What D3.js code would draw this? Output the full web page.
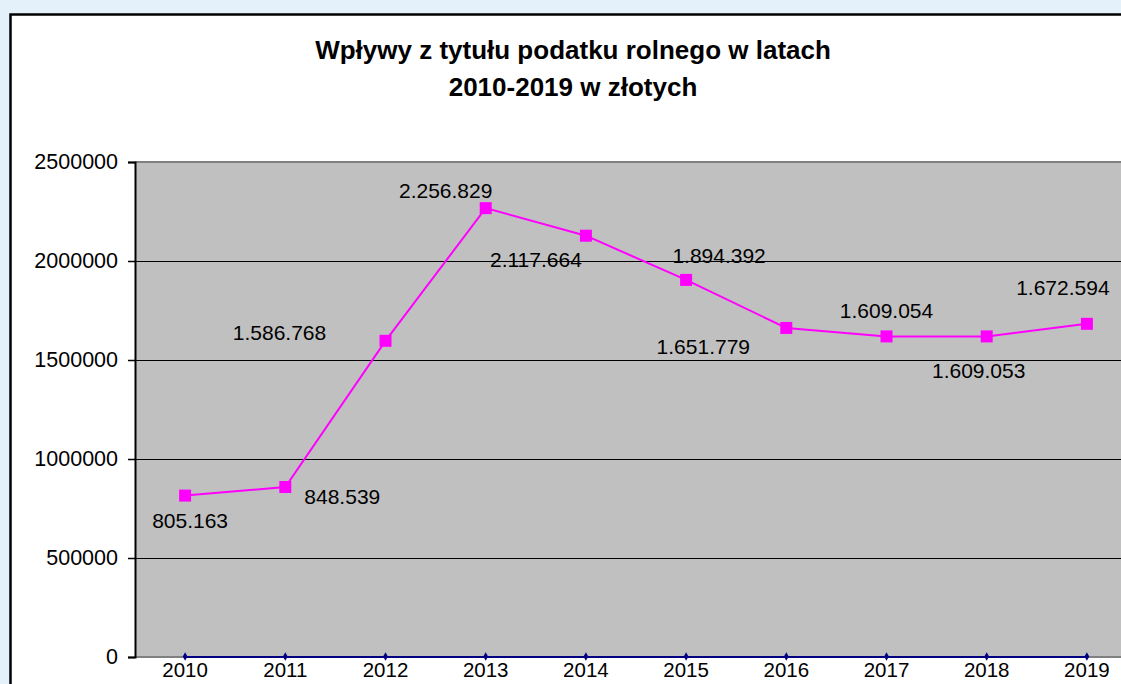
<!DOCTYPE html>
<html>
<head>
<meta charset="utf-8">
<script src="https://cdn.jsdelivr.net/npm/d3@7"></script>
<style>
  html, body { margin: 0; padding: 0; background: #e4f1fa; overflow: hidden; }
  svg { display: block; font-family: "Liberation Sans", Arial, sans-serif; }
</style>
</head>
<body>
<svg id="chart" width="1121" height="684"></svg>
<script>
// chart data
const years = ['2010', '2011', '2012', '2013', '2014', '2015', '2016', '2017', '2018', '2019']
const revenue = [805163, 848539, 1586768, 2256829, 2117664, 1894392, 1651779, 1609054, 1609053, 1672594]
const baseline = [0, 0, 0, 0, 0, 0, 0, 0, 0, 0]
const yTicks = [0, 500000, 1000000, 1500000, 2000000, 2500000]
const titleLines = ['Wpływy z tytułu podatku rolnego w latach', '2010-2019 w złotych']

// label placement relative to each point (hand-placed like the original)
const labelShift = [[5, 25], [57, 10], [-106, -8], [-40, -18], [-50, 24], [33, -24], [-83, 19], [0, -26], [-8, 34], [-24, -36]]

const svg = d3.select('#chart')
const plot = { left: 135, top: 162, right: 1137, bottom: 657 }

// white chart panel
svg.append('rect')
  .attr('x', 10.5).attr('y', 14.5)
  .attr('width', 1300).attr('height', 900)
  .attr('fill', '#fff')
  .attr('stroke', '#000')
  .attr('stroke-width', 2.5)

const x = d3.scaleBand().domain(years).range([plot.left, plot.right])
const cx = d => x(d) + x.bandwidth() / 2
const y = d3.scaleLinear().domain([0, 2500000]).range([plot.bottom, plot.top])

svg.append('rect')
  .attr('x', plot.left).attr('y', plot.top)
  .attr('width', plot.right - plot.left).attr('height', plot.bottom - plot.top)
  .attr('fill', '#c0c0c0')

// gridlines
svg.append('g')
  .selectAll('line')
  .data(yTicks.filter(t => t > 0 && t < 2500000))
  .join('line')
  .attr('x1', plot.left).attr('x2', plot.right)
  .attr('y1', d => Math.round(y(d)) + 0.5).attr('y2', d => Math.round(y(d)) + 0.5)
  .attr('stroke', '#000')

// top + bottom frame of plot area
svg.append('line')
  .attr('x1', plot.left).attr('x2', plot.right)
  .attr('y1', plot.top).attr('y2', plot.top)
  .attr('stroke', '#808080').attr('stroke-width', 2)
svg.append('line')
  .attr('x1', plot.left).attr('x2', plot.right)
  .attr('y1', plot.bottom).attr('y2', plot.bottom)
  .attr('stroke', '#808080').attr('stroke-width', 2)

// y axis
const yAxis = svg.append('g')
  .attr('transform', `translate(${plot.left},0)`)
  .call(d3.axisLeft(y).tickValues(yTicks).tickFormat(d3.format('d')).tickSize(7).tickPadding(10))
yAxis.select('.domain').attr('stroke', '#000').attr('stroke-width', 2)
yAxis.selectAll('.tick line').attr('stroke', '#000').attr('stroke-width', 1.5)
yAxis.selectAll('text').attr('font-size', 21.5).attr('fill', '#000')
yAxis.attr('font-family', null)

// x axis labels
const xAxis = svg.append('g')
  .attr('transform', `translate(0,${plot.bottom})`)
  .call(d3.axisBottom(x).tickSize(0).tickPadding(5))
xAxis.select('.domain').remove()
xAxis.selectAll('text').attr('font-size', 20.5).attr('fill', '#000')
xAxis.attr('font-family', null)

// zero series in navy
const line = d3.line().x((d, i) => cx(years[i])).y(d => y(d))
svg.append('path')
  .datum(baseline)
  .attr('d', line)
  .attr('fill', 'none')
  .attr('stroke', '#000080')
  .attr('stroke-width', 2)
svg.append('g')
  .selectAll('path')
  .data(baseline)
  .join('path')
  .attr('d', d3.symbol(d3.symbolDiamond, 20))
  .attr('transform', (d, i) => `translate(${cx(years[i])},${y(d) - 0.5})`)
  .attr('fill', '#000080')

// main series (nudged up 2px like the original rendering)
const series = svg.append('g').attr('transform', 'translate(0,-2)')
series.append('path')
  .datum(revenue)
  .attr('d', line)
  .attr('fill', 'none')
  .attr('stroke', '#ff00ff')
  .attr('stroke-width', 2)
series.append('g')
  .selectAll('rect')
  .data(revenue)
  .join('rect')
  .attr('x', (d, i) => cx(years[i]) - 6)
  .attr('y', d => y(d) - 6)
  .attr('width', 12).attr('height', 12)
  .attr('fill', '#ff00ff')

const plFormat = d => d3.format(',')(d).replace(/,/g, '.')
series.append('g')
  .selectAll('text')
  .data(revenue)
  .join('text')
  .attr('x', (d, i) => cx(years[i]) + labelShift[i][0])
  .attr('y', (d, i) => y(d) + labelShift[i][1])
  .attr('text-anchor', 'middle')
  .attr('dominant-baseline', 'central')
  .attr('font-size', 21)
  .attr('fill', '#000')
  .text(plFormat)

// title
svg.append('text')
  .attr('x', 573).attr('y', 50)
  .attr('text-anchor', 'middle')
  .attr('font-size', 26)
  .attr('font-weight', 'bold')
  .selectAll('tspan')
  .data(titleLines)
  .join('tspan')
  .attr('x', 573)
  .attr('dy', (d, i) => i === 0 ? 9 : 37)
  .text(d => d)
</script>
</body>
</html>
